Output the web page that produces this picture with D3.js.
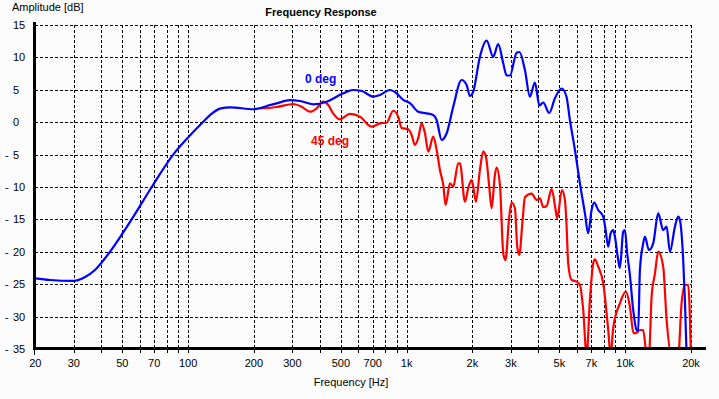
<!DOCTYPE html>
<html>
<head>
<meta charset="utf-8">
<script src="https://cdn.jsdelivr.net/npm/d3@7"></script>
<style>
  html, body { margin: 0; padding: 0; background: #fcfcfc; }
  svg { display: block; }
  text { font-family: "Liberation Sans", Arial, sans-serif; font-size: 11px; fill: #000; }
</style>
</head>
<body>
<svg id="chart" width="719" height="399"></svg>
<script>
// ---- data ----
const xTickValues = [20, 30, 50, 70, 100, 200, 300, 500, 700, 1000, 2000, 3000, 5000, 7000, 10000, 20000];
const xTickLabels = ["20", "30", "50", "70", "100", "200", "300", "500", "700", "1k", "2k", "3k", "5k", "7k", "10k", "20k"];
const xGridValues = [30, 40, 50, 60, 70, 80, 90, 100, 200, 300, 400, 500, 600, 700, 800, 900,
  1000, 2000, 3000, 4000, 5000, 6000, 7000, 8000, 9000, 10000, 20000];
const yTickValues = [15, 10, 5, 0, -5, -10, -15, -20, -25, -30, -35];
const seriesNames = ["0 deg", "45 deg"];
const seriesColors = ["#0000ff", "#ff0000"];

// 0 deg response: [frequency Hz, amplitude dB]
const response0 = [
  [20, -24.1], [23.3, -24.35], [30, -24.5], [33.8, -23.9], [37.5, -22.8], [43.9, -20.0],
  [50.5, -17.0], [55.2, -15.0], [68.2, -10.0], [85.5, -5.0],
  [98.5, -2.6], [116.7, 0.0], [126, 1.1], [140, 2.1], [156, 2.3], [199, 2.0], [213, 2.15],
  [237, 2.65], [254, 2.9], [293, 3.4], [325, 3.27], [374, 2.76], [431, 3.16], [513, 4.46],
  [570, 4.97], [623, 4.81], [704, 3.94], [755, 4.2], [839, 4.97], [900, 4.46], [965, 3.43],
  [1035, 2.96], [1130, 1.62], [1234, 1.37], [1323, 1.11], [1372, 0.34], [1446, -2.75],
  [1524, -1.71], [1634, 2.39], [1785, 6.51], [1882, 5.74], [1948, 4.04], [2017, 4.71],
  [2164, 10.11], [2323, 12.58], [2490, 10.11], [2624, 12.04], [2767, 9.09], [2868, 7.21],
  [2969, 7.21], [3186, 10.73], [3281, 10.83], [3477, 8.06], [3665, 3.94], [3863, 6.13],
  [4051, 2.58], [4216, 3.04], [4490, 1.42], [4769, 3.69], [5118, 5.2], [5383, 3.97],
  [5585, 0.34], [5888, -4.29], [6206, -9.43], [6543, -14.06], [6771, -17.15], [7019, -13.55],
  [7214, -12.42], [7525, -13.55], [7932, -14.58], [8135, -16.64], [8361, -19.21], [8575, -17.15],
  [8813, -16.64], [8973, -17.67], [9290, -21.27], [9458, -22.5], [9791, -16.9], [9968, -16.64],
  [10211, -20.23], [10507, -23.58], [10880, -28.98], [11276, -32.07], [11467, -32.2],
  [11675, -22.81], [12049, -18.95], [12307, -17.67], [12837, -19.72], [13432, -18.69],
  [14160, -14.06], [14923, -16.64], [15470, -16.13], [16017, -19.98], [16883, -16.13],
  [17476, -14.58], [17793, -15.09], [18422, -21.27], [18755, -27.44], [19096, -36]
];

// 45 deg response: [frequency Hz, amplitude dB]
const response45 = [
  [213, 2.15], [221, 2.15], [254, 2.35], [303, 2.81], [331, 2.39], [361, 1.62], [388, 2.15],
  [415, 3.16], [438, 2.65], [461, 1.37], [495, 0.45], [550, 1.27], [612, 0.85], [692, -0.69],
  [755, -0.17], [810, -0.08], [868, 1.77], [915, 0.85], [949, -0.9], [1017, -1.1], [1054, -1.98],
  [1091, -3.52], [1130, -2.44], [1171, -0.17], [1213, -1.71], [1256, -4.55], [1323, -2.24],
  [1372, -4.29], [1420, -7.38], [1471, -9.69], [1508, -12.78], [1578, -9.43], [1634, -9.95],
  [1722, -6.34], [1754, -6.34], [1848, -12.27], [1913, -10.2], [1983, -8.92], [2017, -9.95],
  [2075, -12.27], [2164, -7.38], [2240, -4.55], [2306, -5.32], [2387, -9.95], [2448, -13.29],
  [2534, -8.15], [2580, -6.99], [2672, -9.69], [2767, -20.23], [2831, -21.27], [2947, -14.58],
  [3022, -12.39], [3129, -13.29], [3206, -19.21], [3274, -20.49], [3394, -15.09], [3477, -11.59],
  [3730, -11.03], [3932, -12.0], [4073, -11.74], [4216, -13.09], [4369, -12.93], [4606, -10.31],
  [4804, -13.55], [4885, -14.83], [5133, -10.46], [5298, -12.0], [5394, -16.13], [5485, -21.77],
  [5686, -24.35], [5993, -24.6], [6206, -25.12], [6426, -28.98], [6658, -36], [6895, -27.44],
  [7139, -21.77], [7268, -21.16], [7525, -22.3], [7932, -24.86], [8361, -32.07], [8575, -36],
  [8813, -31.76], [9458, -27.95], [10075, -26.16], [10507, -28.47], [10916, -32.58],
  [11265, -32.5], [11675, -32.07], [12082, -32.07], [12563, -36], [12841, -36], [13209, -26.9],
  [13674, -23.4], [14160, -19.98], [14923, -22.3], [15470, -30.52], [16303, -36], [17476, -36],
  [18113, -27.9], [18755, -25.12], [19421, -25.12], [19980, -36]
];

// ---- drawing ----
const svg = d3.select("#chart");
const plot = { left: 35.3, right: 691, top: 25, bottom: 349 };
const x = d3.scaleLog().domain([20, 20000]).range([plot.left, plot.right]);
const y = d3.scaleLinear().domain([-35, 15]).range([plot.bottom, plot.top]);
const px = v => Math.round(x(v)) + 0.5;
const py = v => Math.round(y(v)) + 0.5;

svg.append("rect").attr("width", 719).attr("height", 399).attr("fill", "#fcfcfc");

// horizontal grid
svg.append("g").selectAll("line").data(yTickValues.filter(d => d !== -35)).join("line")
  .attr("x1", 35).attr("x2", Math.round(plot.right) + 0.5)
  .attr("y1", d => py(d)).attr("y2", d => py(d))
  .attr("stroke", "#000").attr("stroke-width", 1).attr("stroke-dasharray", "3,2");

// vertical grid
svg.append("g").selectAll("line").data(xGridValues).join("line")
  .attr("x1", d => px(d)).attr("x2", d => px(d))
  .attr("y1", plot.top).attr("y2", 355)
  .attr("stroke", "#000").attr("stroke-width", 1).attr("stroke-dasharray", "3,2");

// tick at 20 Hz
svg.append("line").attr("x1", 34.5).attr("x2", 34.5).attr("y1", 349).attr("y2", 355)
  .attr("stroke", "#000").attr("stroke-width", 1);

// curves
const clip = svg.append("defs").append("clipPath").attr("id", "plotclip");
clip.append("rect").attr("x", 34).attr("y", 15).attr("width", 660).attr("height", 334);

const line = d3.line().x(d => x(d[0])).y(d => y(d[1])).curve(d3.curveMonotoneX);
const curves = svg.append("g").attr("clip-path", "url(#plotclip)");
[response45, response0].forEach((s, i) => {
  curves.append("path").datum(s)
    .attr("d", line)
    .attr("fill", "none")
    .attr("stroke", i === 0 ? seriesColors[1] : seriesColors[0])
    .attr("stroke-width", 2.2)
    .attr("stroke-linejoin", "round");
});

// axes lines
svg.append("line").attr("x1", 34.5).attr("x2", 34.5).attr("y1", 22).attr("y2", 350)
  .attr("stroke", "#000").attr("stroke-width", 3);
svg.append("line").attr("x1", 33).attr("x2", 706).attr("y1", 348.5).attr("y2", 348.5)
  .attr("stroke", "#000").attr("stroke-width", 3);

// y tick labels
const yl = svg.append("g").selectAll("text").data(yTickValues).join("text")
  .attr("y", d => y(d) + 4);
yl.each(function(d) {
  const t = d3.select(this);
  if (d < 0) {
    t.append("tspan").attr("x", 5).text("-");
    t.append("tspan").attr("x", 13).text(String(Math.abs(d)));
  } else {
    t.append("tspan").attr("x", 13).text(String(d));
  }
});

// x tick labels
svg.append("g").selectAll("text").data(xTickValues).join("text")
  .attr("x", d => x(d)).attr("y", 367).attr("text-anchor", "middle")
  .text((d, i) => xTickLabels[i]);

// titles
svg.append("text").attr("x", 12).attr("y", 11).text("Amplitude [dB]");
svg.append("text").attr("x", 321).attr("y", 16).attr("text-anchor", "middle")
  .attr("font-weight", "bold").text("Frequency Response");
svg.append("text").attr("x", 351).attr("y", 386).attr("text-anchor", "middle").text("Frequency [Hz]");

// series labels
svg.append("text").attr("x", 305).attr("y", 83).attr("font-weight", "bold")
  .style("font-size", "12px")
  .style("fill", seriesColors[0]).text(seriesNames[0]);
svg.append("text").attr("x", 311).attr("y", 145).attr("font-weight", "bold")
  .style("font-size", "12px")
  .style("fill", seriesColors[1]).text(seriesNames[1]);
</script>
</body>
</html>
